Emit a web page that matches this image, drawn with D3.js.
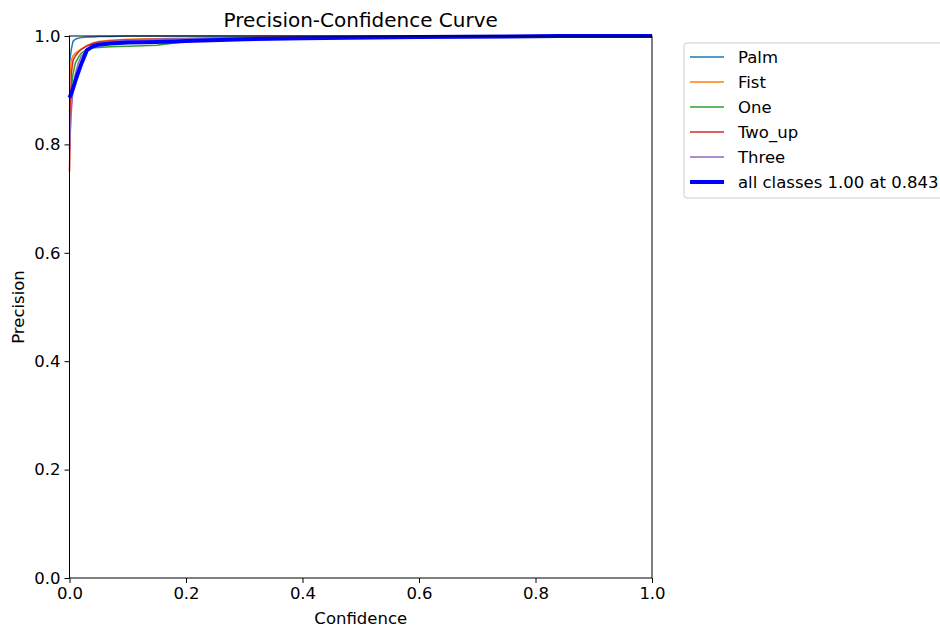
<!DOCTYPE html>
<html lang="en">
<head>
<meta charset="UTF-8">
<title>Precision-Confidence Curve</title>
<script src="https://cdn.jsdelivr.net/npm/d3@7/dist/d3.min.js"></script>
<style>
  body{margin:0;background:#fff;}
  text{font-family:"DejaVu Sans",sans-serif;fill:#000;}
</style>
</head>
<body>
<div id="box"></div>
<script>
// data
const confidence = [0, 0.003, 0.006, 0.01, 0.015, 0.02, 0.03, 0.04, 0.05, 0.07, 0.1, 0.15, 0.18, 0.2, 0.3, 0.4, 0.6, 0.84, 1.0];
const palm   = [0.95, 0.975, 0.99, 0.994, 0.996, 0.997, 0.998, 0.998, 0.999, 0.999, 1.0, 1.0, 1.0, 1.0, 1.0, 1.0, 1.0, 1.0, 1.0];
const fist   = [0.92, 0.955, 0.963, 0.968, 0.972, 0.976, 0.982, 0.987, 0.99, 0.992, 0.994, 0.995, 0.996, 0.996, 0.997, 0.998, 0.999, 1.0, 1.0];
const one    = [0.86, 0.9, 0.93, 0.95, 0.96, 0.968, 0.976, 0.978, 0.979, 0.98, 0.981, 0.983, 0.987, 0.99, 0.994, 0.996, 0.998, 1.0, 1.0];
const twoUp  = [0.75, 0.93, 0.955, 0.963, 0.97, 0.975, 0.982, 0.986, 0.989, 0.991, 0.993, 0.994, 0.995, 0.995, 0.997, 0.998, 0.999, 1.0, 1.0];
const three  = [0.79, 0.86, 0.9, 0.93, 0.95, 0.962, 0.975, 0.982, 0.987, 0.99, 0.992, 0.994, 0.995, 0.995, 0.997, 0.998, 0.999, 1.0, 1.0];
const allCls = [0.886, 0.894, 0.903, 0.917, 0.933, 0.948, 0.974, 0.981, 0.984, 0.986, 0.988, 0.989, 0.99, 0.991, 0.994, 0.996, 0.998, 1.0, 1.0];
const xTicks = [0, 0.2, 0.4, 0.6, 0.8, 1.0];
const yTicks = [0, 0.2, 0.4, 0.6, 0.8, 1.0];

const series = [
  {name:"Palm", values:palm, color:"#1f77b4", w:1.5},
  {name:"Fist", values:fist, color:"#ff7f0e", w:1.5},
  {name:"One", values:one, color:"#2ca02c", w:1.5},
  {name:"Two_up", values:twoUp, color:"#d62728", w:1.5},
  {name:"Three", values:three, color:"#9467bd", w:1.5},
  {name:"all classes 1.00 at 0.843", values:allCls, color:"#0000ff", w:4}
];

const svg = d3.select("#box").append("svg").attr("width",940).attr("height",627);
const margin = {top:36, left:69.5, right:288, bottom:49};
const innerWidth = 940 - margin.left - margin.right;
const innerHeight = 627 - margin.top - margin.bottom;

const xScale = d3.scaleLinear().domain([0,1]).range([0,innerWidth]);
const yScale = d3.scaleLinear().domain([0,1]).range([innerHeight,0]);

const g = svg.append("g").attr("transform",`translate(${margin.left},${margin.top})`);

// curves
const line = d3.line().x((d,i)=>xScale(confidence[i])).y(d=>yScale(d));
series.forEach(s=>{
  g.append("path").datum(s.values)
    .attr("d",line)
    .attr("fill","none")
    .attr("stroke",s.color)
    .attr("stroke-width",s.w)
    .attr("stroke-linejoin","round");
});

// axes
const xAxis = d3.axisBottom(xScale).tickValues(xTicks).tickFormat(d3.format(".1f")).tickSize(5).tickPadding(4);
const yAxis = d3.axisLeft(yScale).tickValues(yTicks).tickFormat(d3.format(".1f")).tickSize(5).tickPadding(4);
g.append("g").attr("transform",`translate(0,${innerHeight})`).call(xAxis);
g.append("g").call(yAxis);
g.selectAll(".tick text").attr("font-size","16.5px").style("font-family","DejaVu Sans");
g.selectAll(".domain").remove();
g.selectAll(".tick line").attr("stroke","#000").attr("stroke-width",1);

// frame
g.append("rect").attr("width",innerWidth).attr("height",innerHeight)
  .attr("fill","none").attr("stroke","#000").attr("stroke-width",1);

// title and labels
svg.append("text").text("Precision-Confidence Curve")
  .attr("x",margin.left+innerWidth/2).attr("y",27)
  .attr("text-anchor","middle").attr("font-size","20px");
svg.append("text").text("Confidence")
  .attr("x",margin.left+innerWidth/2).attr("y",624)
  .attr("text-anchor","middle").attr("font-size","16.5px");
svg.append("text").text("Precision")
  .attr("transform",`translate(24,${margin.top+innerHeight/2}) rotate(-90)`)
  .attr("text-anchor","middle").attr("font-size","16.5px");

// legend
const lg = svg.append("g").attr("transform","translate(684,43)");
lg.append("rect").attr("x",0).attr("y",0).attr("width",262).attr("height",155).attr("rx",3)
  .attr("fill","#fff").attr("stroke","#ccc").attr("stroke-width",1);
series.forEach((s,i)=>{
  const yy = 14 + i*25;
  lg.append("line").attr("x1",6).attr("x2",40).attr("y1",yy).attr("y2",yy)
    .attr("stroke",s.color).attr("stroke-width",s.w);
  lg.append("text").text(s.name).attr("x",54).attr("y",yy+6).attr("font-size","16.5px");
});
</script>
</body>
</html>
